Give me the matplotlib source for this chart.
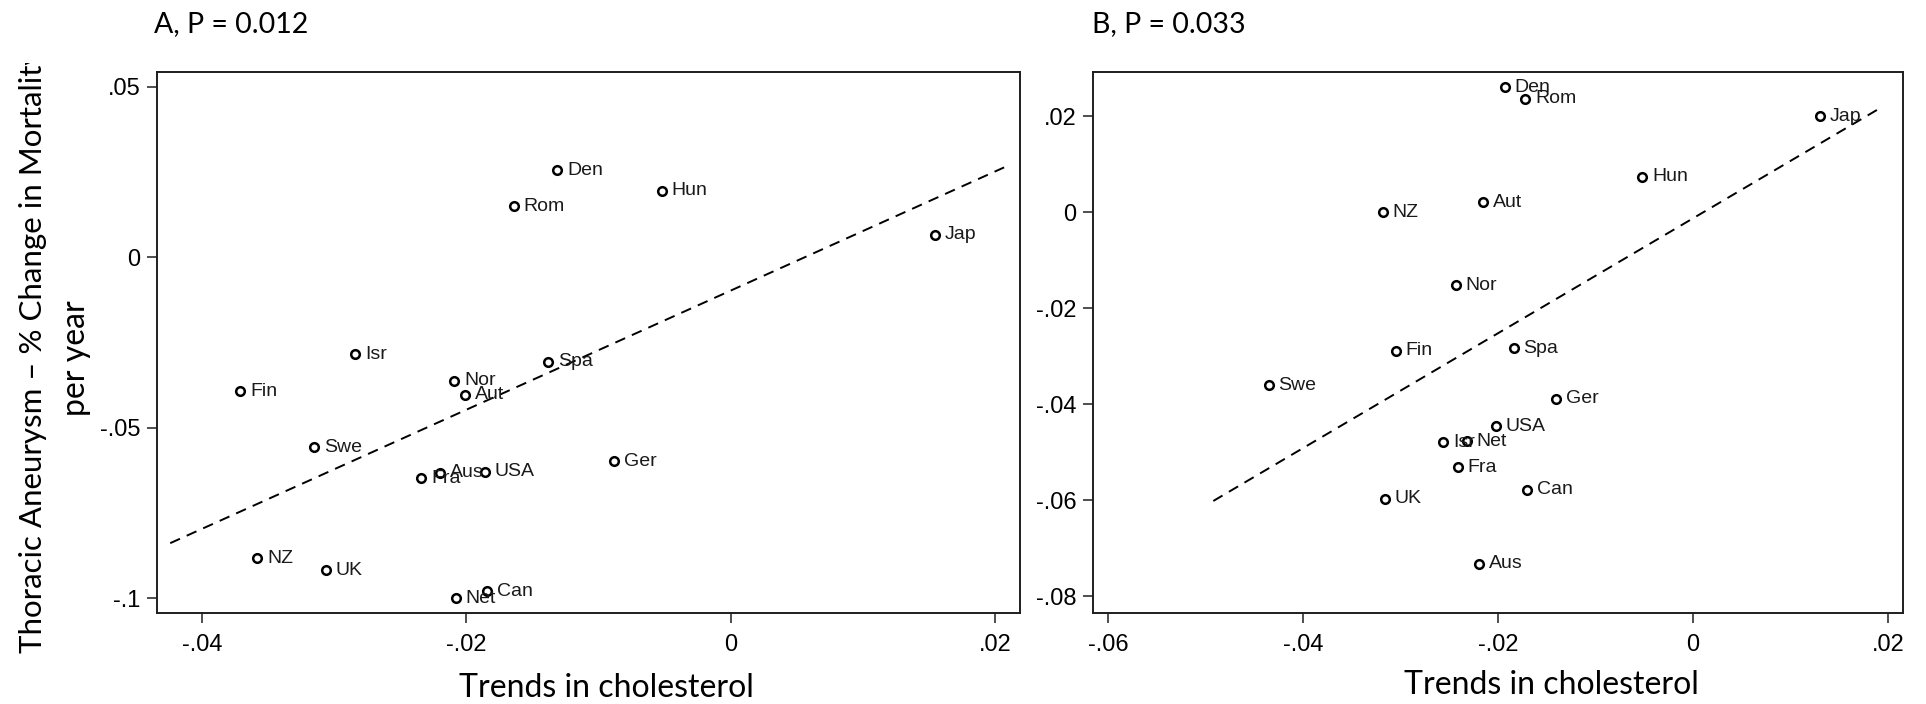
import numpy as np
import matplotlib
matplotlib.use("Agg")
import matplotlib.pyplot as plt
from matplotlib.transforms import Bbox

# ---------------- data ----------------
countries_a = ["Den", "Hun", "Rom", "Jap", "Isr", "Spa", "Nor", "Aut", "Fin",
               "Swe", "Ger", "Aus", "Fra", "USA", "NZ", "UK", "Can", "Net"]
x_a = [-0.0131, -0.0052, -0.0164, 0.0155, -0.0284, -0.0138, -0.0209, -0.0201, -0.0371,
       -0.0315, -0.0088, -0.0220, -0.0234, -0.0186, -0.0358, -0.0306, -0.0184, -0.0208]
y_a = [0.0255, 0.0195, 0.0150, 0.0066, -0.0284, -0.0307, -0.0363, -0.0404, -0.0393,
       -0.0557, -0.0599, -0.0633, -0.0649, -0.0629, -0.0883, -0.0918, -0.0980, -0.1000]
fit_a_x = [-0.0424, 0.0207]
fit_a_y = [-0.0839, 0.0264]

countries_b = ["Den", "Rom", "Jap", "Hun", "Aut", "NZ", "Nor", "Fin", "Spa",
               "Swe", "Ger", "USA", "Isr", "Net", "Fra", "Can", "UK", "Aus"]
x_b = [-0.0193, -0.0172, 0.0130, -0.0052, -0.0215, -0.0318, -0.0243, -0.0305, -0.0184,
       -0.0435, -0.0140, -0.0202, -0.0256, -0.0232, -0.0241, -0.0170, -0.0316, -0.0219]
y_b = [0.0260, 0.0236, 0.0200, 0.0073, 0.0020, 0.0000, -0.0153, -0.0289, -0.0284,
       -0.0361, -0.0389, -0.0446, -0.0480, -0.0478, -0.0532, -0.0579, -0.0597, -0.0733]
fit_b_x = [-0.0492, 0.0189]
fit_b_y = [-0.0602, 0.0213]

xticks_a = [-0.04, -0.02, 0, 0.02]
xtick_labels_a = ["-.04", "-.02", "0", ".02"]
yticks_a = [0.05, 0, -0.05, -0.1]
ytick_labels_a = [".05", "0", "-.05", "-.1"]
xticks_b = [-0.06, -0.04, -0.02, 0, 0.02]
xtick_labels_b = ["-.06", "-.04", "-.02", "0", ".02"]
yticks_b = [0.02, 0, -0.02, -0.04, -0.06, -0.08]
ytick_labels_b = [".02", "0", "-.02", "-.04", "-.06", "-.08"]

title_a = "A, P = 0.012"
title_b = "B, P = 0.033"
xlabel = "Trends in cholesterol"
ylabel_1 = "Thoracic Aneurysm \u2013 % Change in Mortality"
ylabel_2 = "per year"

# ---------------- figure ----------------
W, H = 1926, 704
fig = plt.figure(figsize=(W / 100, H / 100), dpi=100)
fig.patch.set_facecolor("white")

TICK_FONT = ["Liberation Sans", "DejaVu Sans"]
LABEL_FONT = ["Lato", "DejaVu Sans"]


def fx(px):
    return px / W


def fy(py):
    return 1 - py / H


def make_ax(left, right, top, bottom):
    return fig.add_axes([fx(left), fy(bottom), fx(right) - fx(left), fy(top) - fy(bottom)])


def style(ax, xt, xtl, yt, ytl, xlim, ylim):
    ax.set_xlim(*xlim)
    ax.set_ylim(*ylim)
    ax.set_xticks(xt)
    ax.set_xticklabels(xtl)
    ax.set_yticks(yt)
    ax.set_yticklabels(ytl)
    for s in ax.spines.values():
        s.set_linewidth(1.4)
        s.set_color("#1e1e1e")
    ax.tick_params(axis="both", direction="out", length=7, width=1.1, color="#1e1e1e",
                   labelsize=17, labelcolor="black")
    ax.tick_params(axis="x", pad=8)
    ax.tick_params(axis="y", pad=5)
    for lab in ax.get_xticklabels() + ax.get_yticklabels():
        lab.set_family(TICK_FONT)


def scatter_panel(ax, xs, ys, names, fx_, fy_):
    ax.plot(fx_, fy_, color="black", lw=1.4, linestyle=(0, (5.5, 3.8)), zorder=2)
    ax.plot(xs, ys, linestyle="none", marker="o", markersize=6.2, markerfacecolor="white",
            markeredgecolor="black", markeredgewidth=1.8, zorder=3)
    for x, y, n in zip(xs, ys, names):
        ax.annotate(n, (x, y), xytext=(7, 0), textcoords="offset points",
                    ha="left", va="center", fontsize=14, color="#1a1a1a",
                    family=TICK_FONT, zorder=4)


ax_a = make_ax(157, 1020, 72, 613)
style(ax_a, xticks_a, xtick_labels_a, yticks_a, ytick_labels_a,
      (-0.0434, 0.0219), (-0.1044, 0.0544))
scatter_panel(ax_a, x_a, y_a, countries_a, fit_a_x, fit_a_y)

ax_b = make_ax(1093, 1903, 72, 613)
style(ax_b, xticks_b, xtick_labels_b, yticks_b, ytick_labels_b,
      (-0.06154, 0.02154), (-0.08354, 0.02917))
scatter_panel(ax_b, x_b, y_b, countries_b, fit_b_x, fit_b_y)

# titles
fig.text(fx(154), fy(32), title_a, fontsize=20.5, family=LABEL_FONT, ha="left", va="baseline")
fig.text(fx(1092), fy(32), title_b, fontsize=20.5, family=LABEL_FONT, ha="left", va="baseline")

# x labels
fig.text(fx(606), fy(697), xlabel, fontsize=23, family=LABEL_FONT, ha="center", va="baseline")
fig.text(fx(1551), fy(694), xlabel, fontsize=23, family=LABEL_FONT, ha="center", va="baseline")

# y label (two lines, the first one cut off at the top as in the picture)
t1 = fig.text(fx(42), fy(653), ylabel_1, fontsize=22.5, family=LABEL_FONT, rotation=90,
              rotation_mode="anchor", ha="left", va="baseline")
t1.set_clip_box(Bbox.from_extents(0, 0, W, H - 63))
t1.set_clip_on(True)
fig.text(fx(85), fy(358), ylabel_2, fontsize=23, family=LABEL_FONT, rotation=90,
         rotation_mode="anchor", ha="center", va="baseline")

fig.savefig("out.png", dpi=100, facecolor="white")
